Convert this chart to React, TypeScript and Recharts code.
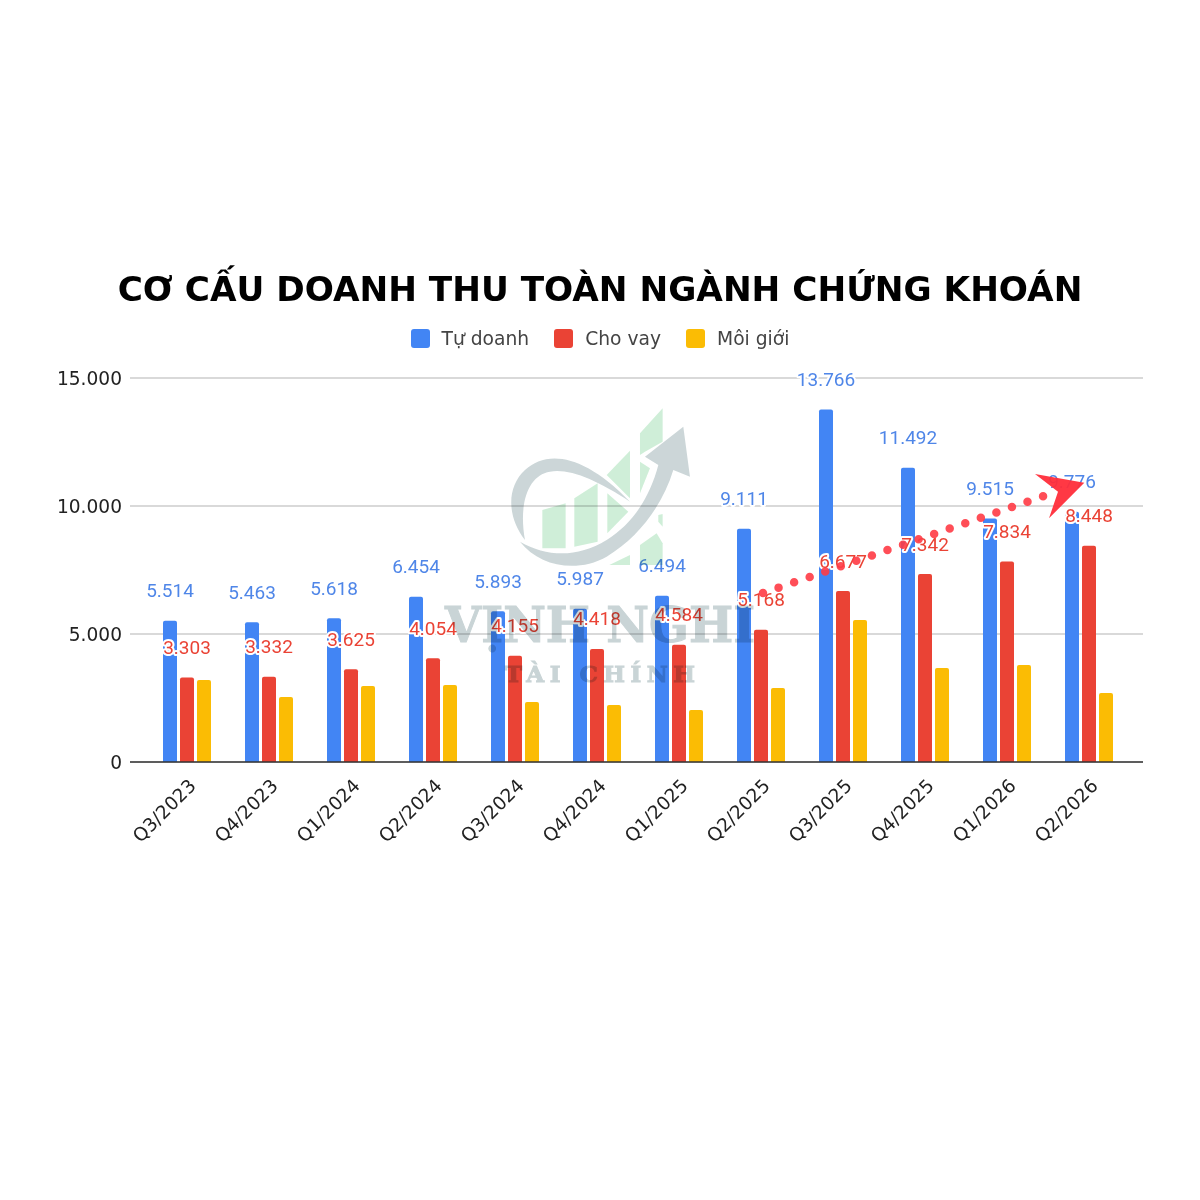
import { BarChart, Bar, XAxis, YAxis, CartesianGrid, Legend, LabelList } from 'recharts'

const quarters = ['Q3/2023', 'Q4/2023', 'Q1/2024', 'Q2/2024', 'Q3/2024', 'Q4/2024', 'Q1/2025', 'Q2/2025', 'Q3/2025', 'Q4/2025', 'Q1/2026', 'Q2/2026']
const tuDoanh = [5514, 5463, 5618, 6454, 5893, 5987, 6494, 9111, 13766, 11492, 9515, 9776]
const choVay = [3303, 3332, 3625, 4054, 4155, 4418, 4584, 5168, 6677, 7342, 7834, 8448]
const moiGioi = [3200, 2540, 2970, 3010, 2340, 2230, 2030, 2890, 5550, 3670, 3790, 2700]
const yTicks = [0, 5000, 10000, 15000]

const BLUE = '#4285f4'
const RED = '#ea4335'
const YELLOW = '#fbbc04'
const FONT = 'Roboto, sans-serif'
const AXIS_FONT = "'DejaVu Sans', sans-serif"

const data = quarters.map((q, i) => ({ q, tuDoanh: tuDoanh[i], choVay: choVay[i], moiGioi: moiGioi[i] }))

const dotted = (v: number) => String(v).replace(/\B(?=(\d{3})+$)/g, '.')

function valueLabel(color: string) {
  return (p: any) => (
    <text
      x={p.x + p.width / 2}
      y={p.y - 30}
      textAnchor="middle"
      dominantBaseline="central"
      fontFamily={FONT}
      fontSize={19}
      fill={color}
      stroke="#fff"
      strokeWidth={4}
      strokeLinejoin="round"
      paintOrder="stroke"
    >
      {dotted(p.value)}
    </text>
  )
}

function QuarterTick(p: any) {
  return (
    <text
      transform={`translate(${p.x + 10},${p.y + 17}) rotate(-45)`}
      textAnchor="end"
      fontFamily={AXIS_FONT}
      fontSize={18.6}
      fill="#222"
    >
      {p.payload.value}
    </text>
  )
}

function LegendRow(p: any) {
  return (
    <div style={{ display: 'flex', justifyContent: 'center', gap: 25, fontFamily: AXIS_FONT, fontSize: 18.7, color: '#444' }}>
      {p.payload.map((e: any) => (
        <div key={e.value} style={{ display: 'flex', alignItems: 'center', gap: 12 }}>
          <span style={{ width: 19, height: 19, borderRadius: 3, background: e.color, display: 'inline-block' }} />
          {e.value}
        </div>
      ))}
    </div>
  )
}

// watermark logo and trend arrow sit over the chart
function Overlay() {
  const green = '#cdeed6'
  const grey = '#c9d4d6'
  return (
    <svg width={1200} height={1200} style={{ position: 'absolute', left: 0, top: 0, pointerEvents: 'none' }}>
      <g transform="translate(400,390) scale(0.3333)" opacity={0.95} style={{ mixBlendMode: 'multiply' }}>
        <path fill={green} d="M427 360L497 340V475H427Z" />
        <path fill={green} d="M523 325L593 280V455L523 470Z" />
        <path fill={green} d="M620 255L690 182V325Z" />
        <path fill={green} d="M622 310L685 365L622 430Z" />
        <path fill={green} d="M628 525L690 495V525Z" />
        <path fill={green} d="M720 130L788 55V155L735 185L720 195Z" />
        <path fill={green} d="M720 215L750 235L720 310Z" />
        <path fill={green} d="M775 375L788 372V410L775 395Z" />
        <path fill={green} d="M720 465L770 430L788 460V525H720Z" />
        <path fill={grey} d="M375 450C320 380 320 290 375 240C440 180 550 190 690 335C590 270 510 235 450 245C385 255 355 340 375 450Z" />
        <path fill={grey} d="M360 455C440 500 530 505 620 450C700 400 750 320 775 225L735 200L850 110L870 260L820 240C790 340 720 440 620 500C530 550 420 530 360 455Z" />
      </g>
      <g style={{ mixBlendMode: 'multiply' }} fill="#c9d4d6" stroke="#c9d4d6" strokeWidth={1} fontFamily="'DejaVu Serif', serif" fontWeight={700}>
        <text x={445} y={642} fontSize={48} textLength={310} lengthAdjust="spacingAndGlyphs">VỊNH NGHI</text>
        <text x={505} y={682} fontSize={23} textLength={190}>TÀI CHÍNH</text>
      </g>
      <line x1={763} y1={593} x2={1044} y2={496} stroke="#ff3b45" strokeOpacity={0.9} strokeWidth={8.5} strokeLinecap="round" strokeDasharray="0 16.46" />
      <path d="M1035 474L1084.3 482.7L1049 518.3L1058 491.7Z" fill="#ff2d3a" fillOpacity={0.95} />
    </svg>
  )
}

export default function App() {
  return (
    <div style={{ position: 'absolute', left: 0, top: 0, width: 1200, height: 1200, background: '#fff', overflow: 'hidden' }}>
      <div style={{ position: 'absolute', left: 0, top: 269, width: 1200, textAlign: 'center', fontFamily: AXIS_FONT, fontWeight: 700, fontSize: 34.3, color: '#000', whiteSpace: 'nowrap' }}>
        CƠ CẤU DOANH THU TOÀN NGÀNH CHỨNG KHOÁN
      </div>
      <BarChart
        width={1200}
        height={1200}
        data={data}
        barSize={14}
        barGap={3}
        margin={{ top: 357, right: 57, bottom: 338, left: 70 }}
      >
        <CartesianGrid vertical={false} stroke="#ccc" strokeWidth={1.5} />
        <XAxis
          dataKey="q"
          height={100}
          interval={0}
          padding={{ left: 16, right: 13 }}
          tick={QuarterTick}
          tickLine={false}
          axisLine={{ stroke: '#333', strokeWidth: 1.5 }}
        />
        <YAxis
          width={60}
          domain={[0, 15000]}
          ticks={yTicks}
          tickFormatter={dotted}
          tick={{ fontSize: 18.6, fontFamily: AXIS_FONT, fill: '#222' }}
          tickLine={false}
          axisLine={false}
          tickMargin={2}
        />
        <Legend verticalAlign="top" itemSorter={null} content={LegendRow} wrapperStyle={{ position: 'absolute', top: 328, left: 0, width: 1200 }} />
        <Bar dataKey="tuDoanh" name="Tự doanh" fill={BLUE} radius={[2, 2, 0, 0]} isAnimationActive={false}>
          <LabelList dataKey="tuDoanh" content={valueLabel('#4f86e8')} />
        </Bar>
        <Bar dataKey="choVay" name="Cho vay" fill={RED} radius={[2, 2, 0, 0]} isAnimationActive={false}>
          <LabelList dataKey="choVay" content={valueLabel(RED)} />
        </Bar>
        <Bar dataKey="moiGioi" name="Môi giới" fill={YELLOW} radius={[2, 2, 0, 0]} isAnimationActive={false} />
      </BarChart>
      <Overlay />
    </div>
  )
}
